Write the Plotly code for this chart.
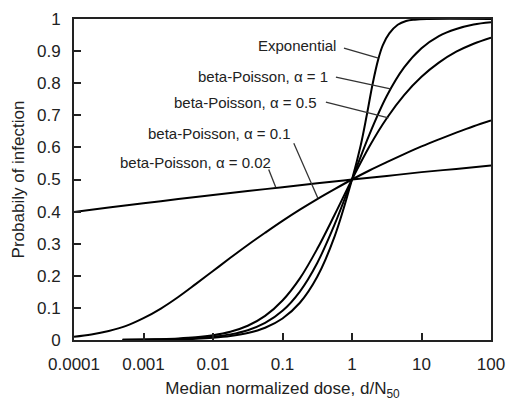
import math
import plotly.graph_objects as go

# ---- data ----
dose_bp002 = [0.0001, 0.0003162, 0.001, 0.003162, 0.01, 0.03162, 0.1, 0.3162, 1, 3.162, 10, 31.62, 100]
p_bp002 = [0.399, 0.413, 0.426, 0.439, 0.452, 0.464, 0.476, 0.488, 0.500, 0.511, 0.523, 0.533, 0.544]

dose_bp01 = [0.0001, 0.0001778, 0.0003162, 0.0005623, 0.001, 0.001778, 0.003162, 0.005623, 0.01,
             0.01778, 0.03162, 0.05623, 0.1, 0.1778, 0.3162, 0.5623, 1, 1.778, 3.162, 5.623, 10,
             17.78, 31.62, 56.23, 100]
p_bp01 = [0.010, 0.017, 0.028, 0.044, 0.068, 0.098, 0.134, 0.174, 0.215, 0.256, 0.296, 0.334, 0.371,
          0.406, 0.439, 0.470, 0.500, 0.528, 0.554, 0.579, 0.603, 0.625, 0.646, 0.666, 0.684]

dose_steep = [0.0005, 0.001, 0.001778, 0.003162, 0.005623, 0.01, 0.01778, 0.03162, 0.05623, 0.1,
              0.1778, 0.3162, 0.5623, 1, 1.778, 3.162, 5.623, 10, 17.78, 31.62, 56.23, 100]
p_bp05 = [0.0008, 0.0015, 0.0027, 0.0047, 0.0083, 0.0147, 0.0256, 0.0443, 0.0750, 0.123, 0.192,
          0.284, 0.390, 0.500, 0.603, 0.691, 0.763, 0.820, 0.864, 0.898, 0.923, 0.942]
p_bp1 = [0.0005, 0.0010, 0.0018, 0.0032, 0.0056, 0.0099, 0.0175, 0.0306, 0.0532, 0.0909, 0.151,
         0.240, 0.360, 0.500, 0.640, 0.760, 0.849, 0.909, 0.947, 0.969, 0.983, 0.990]

dose_exp = [0.0005, 0.001, 0.001778, 0.003162, 0.005623, 0.01, 0.01778, 0.03162, 0.05623, 0.1,
            0.1778, 0.3162, 0.5623, 1, 1.33, 1.63, 1.99, 2.39, 2.77, 3.44, 4.55, 6.0, 8.0, 12, 100]
p_exp = [0.0003, 0.0007, 0.0012, 0.0022, 0.0039, 0.0069, 0.0122, 0.0217, 0.0382, 0.067, 0.116,
         0.197, 0.323, 0.500, 0.605, 0.700, 0.800, 0.875, 0.918, 0.955, 0.982, 0.994, 0.998, 1.0, 1.0]

x_tickvals = [0.0001, 0.001, 0.01, 0.1, 1, 10, 100]
x_ticktext = ["0.0001", "0.001", "0.01", "0.1", "1", "10", "100"]
y_tickvals = [0, 0.1, 0.2, 0.3, 0.4, 0.5, 0.6, 0.7, 0.8, 0.9, 1]
y_ticktext = ["0", "0.1", "0.2", "0.3", "0.4", "0.5", "0.6", "0.7", "0.8", "0.9", "1"]

# labels: (text, label anchor x (data), label y, leader start x, start y, leader end x, end y)
labels = [
    ("Exponential", 0.63, 0.916, 0.766, 0.9095, 2.40, 0.878),
    ("beta-Poisson, \u03b1 = 1", 0.48, 0.822, 0.587, 0.819, 3.57, 0.782),
    ("beta-Poisson, \u03b1 = 0.5", 0.333, 0.741, 0.421, 0.741, 3.34, 0.692),
    ("beta-Poisson, \u03b1 = 0.1", 0.143, 0.644, 0.1454, 0.613, 0.323, 0.4415),
    ("beta-Poisson, \u03b1 = 0.02", 0.0723, 0.554, 0.0633, 0.531, 0.0799, 0.476),
]

FONT = "Liberation Sans, Arial, Helvetica, sans-serif"
line_style = dict(color="black", width=2, shape="spline")

fig = go.Figure()
for xs, ys, nm in [(dose_bp002, p_bp002, "beta-Poisson, a=0.02"),
                   (dose_bp01, p_bp01, "beta-Poisson, a=0.1"),
                   (dose_steep, p_bp05, "beta-Poisson, a=0.5"),
                   (dose_steep, p_bp1, "beta-Poisson, a=1"),
                   (dose_exp, p_exp, "Exponential")]:
    fig.add_trace(go.Scatter(x=xs, y=ys, mode="lines", line=line_style, name=nm,
                             showlegend=False, hoverinfo="skip"))

for text, lx, ly, x0, y0, x1, y1 in labels:
    fig.add_annotation(x=math.log10(lx), y=ly, xref="x", yref="y", text=text, showarrow=False,
                       xanchor="right", yanchor="middle",
                       font=dict(family=FONT, size=15, color="#222"))
    fig.add_shape(type="line", xref="x", yref="y", x0=x0, y0=y0, x1=x1, y1=y1,
                  line=dict(color="#333", width=1.3))

fig.update_layout(
    width=510, height=401,
    margin=dict(l=74, r=19, t=19, b=61, autoexpand=False),
    paper_bgcolor="white", plot_bgcolor="white",
    font=dict(family=FONT, size=17, color="#222"),
)
fig.update_xaxes(
    type="log", range=[-4, 2], tickvals=x_tickvals, ticktext=x_ticktext,
    ticks="inside", ticklen=7, tickwidth=1.5, tickcolor="#222",
    showline=True, linecolor="#222", linewidth=2, mirror=True, automargin=False,
    showgrid=False, zeroline=False, ticklabelstandoff=8, ticklabeloverflow="allow",
    title=dict(text="Median normalized dose, d/N<sub>50</sub>", standoff=12,
               font=dict(family=FONT, size=17, color="#222")),
)
fig.update_yaxes(
    range=[0, 1], tickvals=y_tickvals, ticktext=y_ticktext,
    ticks="inside", ticklen=7, tickwidth=1.5, tickcolor="#222",
    showline=True, linecolor="#222", linewidth=2, mirror=True, automargin=False,
    showgrid=False, zeroline=False, ticklabelstandoff=8,
    title=dict(text="Probabily of infection", standoff=8,
               font=dict(family=FONT, size=17, color="#222")),
)

# remove the browser's default page margin so the figure fills the window exactly
fig.write_html(
    "out.html",
    config={"displayModeBar": False},
    post_script="document.body.style.margin='0';document.documentElement.style.overflow='hidden';",
)
